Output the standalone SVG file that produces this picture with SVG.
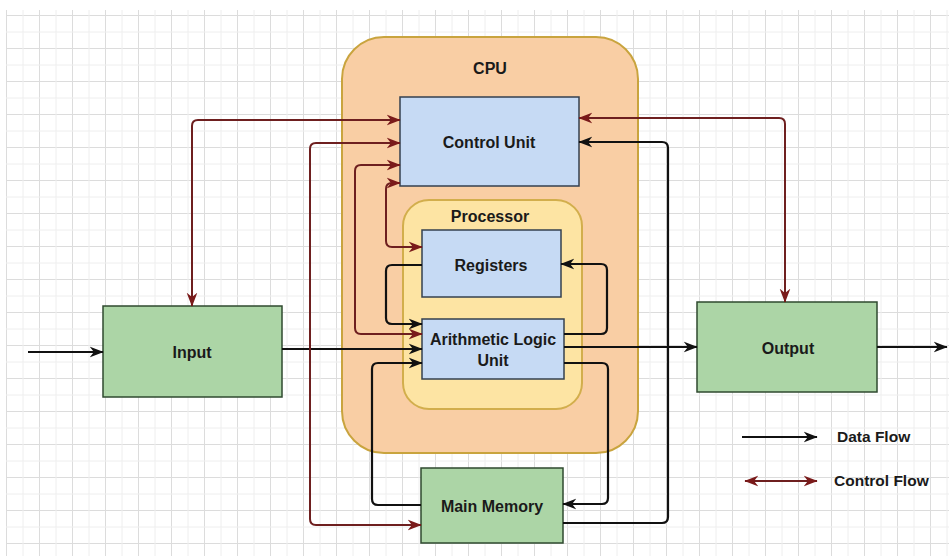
<svg xmlns="http://www.w3.org/2000/svg" width="949" height="556" viewBox="0 0 949 556">
<style>
.lbl{font-family:"Liberation Sans",Arial,sans-serif;font-weight:bold;font-size:16px;fill:#1a1a1a;text-anchor:middle}
.leg{font-family:"Liberation Sans",Arial,sans-serif;font-weight:bold;font-size:15.5px;fill:#1a1a1a}
.blue{fill:#c6daf4;stroke:#34404f;stroke-width:1.5}
.green{fill:#acd5a6;stroke:#2f4a2f;stroke-width:1.5}
.data{fill:none;stroke:#111;stroke-width:2.2;marker-end:url(#ad)}
.ctrl{fill:none;stroke:#6e1f1f;stroke-width:2;marker-start:url(#ac);marker-end:url(#ac)}
</style>
<defs>
<pattern id="grid" x="6" y="15" width="33" height="33" patternUnits="userSpaceOnUse">
<path d="M0.5,0 V33 M0,0.5 H33" fill="none" stroke="#dcdcdc" stroke-width="1"/>
<path d="M17,0 V33 M0,17 H33" fill="none" stroke="#eeeeee" stroke-width="1"/>
</pattern>
<marker id="ad" viewBox="0 0 10 10" refX="9.5" refY="5" markerWidth="14" markerHeight="14" markerUnits="userSpaceOnUse" orient="auto-start-reverse">
<path d="M0,1.2 L10,5 L0,8.8 L3,5 z" fill="#111"/>
</marker>
<marker id="ac" viewBox="0 0 10 10" refX="9.5" refY="5" markerWidth="14" markerHeight="14" markerUnits="userSpaceOnUse" orient="auto-start-reverse">
<path d="M0,1.2 L10,5 L0,8.8 L3,5 z" fill="#7a1a1a"/>
</marker>
</defs>
<rect width="949" height="556" fill="#ffffff"/>
<rect x="6" y="10" width="943" height="546" fill="url(#grid)"/>

<g id="cpu">
<rect x="342" y="37" width="296" height="416" rx="42" ry="42" fill="#f9cea4" stroke="#c9a43e" stroke-width="2"/>
<text class="lbl" x="490" y="74">CPU</text>
</g>
<g id="processor">
<rect x="403" y="200" width="179" height="209" rx="26" ry="26" fill="#fde4a3" stroke="#d2ae4c" stroke-width="2"/>
<text class="lbl" x="490" y="222">Processor</text>
</g>
<g id="control-unit">
<rect class="blue" x="400" y="97" width="179" height="89"/>
<text class="lbl" x="489" y="148">Control Unit</text>
</g>
<g id="registers">
<rect class="blue" x="422" y="230" width="139" height="67"/>
<text class="lbl" x="491" y="271">Registers</text>
</g>
<g id="alu">
<rect class="blue" x="422" y="319" width="142" height="60"/>
<text class="lbl" x="493" y="345">Arithmetic Logic</text>
<text class="lbl" x="493" y="366">Unit</text>
</g>
<g id="main-memory">
<rect class="green" x="421" y="468" width="142" height="75"/>
<text class="lbl" x="492" y="512">Main Memory</text>
</g>
<g id="input">
<rect class="green" x="103" y="306" width="179" height="91"/>
<text class="lbl" x="192" y="358">Input</text>
</g>
<g id="output">
<rect class="green" x="697" y="302" width="180" height="90"/>
<text class="lbl" x="788" y="354">Output</text>
</g>

<g id="connectors">
<path class="data" d="M28,352 H103"/>
<path class="data" d="M282,349 H422"/>
<path class="data" d="M564,347 H697"/>
<path class="data" d="M877,347 H947"/>
<path class="data" d="M422,265 H392 Q386,265 386,271 V318 Q386,324 392,324 H422"/>
<path class="data" d="M564,334 H601 Q607,334 607,328 V270 Q607,264 601,264 H561"/>
<path class="data" d="M421,505 H378 Q372,505 372,499 V369 Q372,363 378,363 H422"/>
<path class="data" d="M564,363 H602 Q608,363 608,369 V498 Q608,504 602,504 H563"/>
<path class="data" d="M563,523 H662 Q668,523 668,517 V148 Q668,142 662,142 H579"/>
<path class="ctrl" d="M192,306 V126 Q192,120 198,120 H400"/>
<path class="ctrl" d="M421,525 H316 Q310,525 310,519 V149 Q310,143 316,143 H400"/>
<path class="ctrl" d="M422,334 H361 Q355,334 355,328 V171 Q355,165 361,165 H400"/>
<path class="ctrl" d="M422,247 H392 Q386,247 386,241 V189 Q386,183 392,183 H400"/>
<path class="ctrl" d="M785,302 V124 Q785,118 779,118 H579"/>
</g>

<g id="legend">
<path class="data" d="M742,437 H817"/>
<text class="leg" x="837" y="442">Data Flow</text>
<path class="ctrl" d="M745,481 H817"/>
<text class="leg" x="834" y="486">Control Flow</text>
</g>
</svg>
